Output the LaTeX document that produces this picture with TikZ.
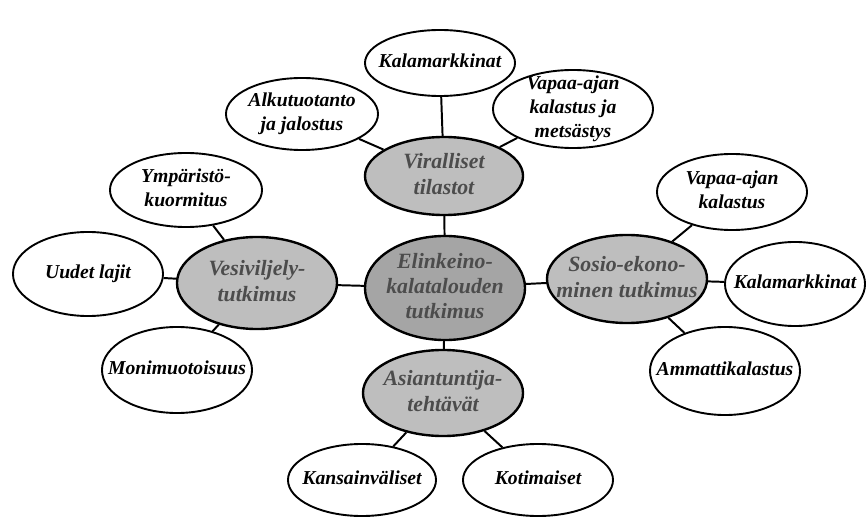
\documentclass[tikz,border=0pt]{standalone}
\usepackage{fontspec}
\setmainfont{Liberation Serif}
\usetikzlibrary{shapes.geometric}

\definecolor{harmaa}{RGB}{190,190,190}
\definecolor{tummaharmaa}{RGB}{165,165,165}

% text set in a box of no size, so the ellipse keeps its own size
\newcommand\ltxt[1]{\smash{\makebox[0pt]{\raisebox{-.25em}{\begin{tabular}{@{}c@{}}#1\end{tabular}}}}}

\tikzset{
   ell/.style={ellipse,draw,inner sep=0pt},
   outer/.style={ell,line width=1.35pt,fill=white,font=\bfseries\itshape\fontsize{14}{17}\selectfont},
   inner/.style={ell,line width=1.7pt,fill=harmaa,text=black!70,font=\bfseries\itshape\fontsize{15.5}{18}\selectfont},
   yhd/.style={line width=1.4pt}
}

\begin{document}
\begin{tikzpicture}[x=0.025cm,y=-0.025cm]
   \useasboundingbox (0,0) rectangle (866,517);

   % keskus ja paaalueet
   \node[inner,minimum width=4cm,minimum height=2.6cm,fill=tummaharmaa] (keskus) at (445,288) {\ltxt{Elinkeino-\\kalatalouden\\tutkimus}};
   \node[inner,minimum width=3.95cm,minimum height=1.95cm] (viral) at (444,176) {\ltxt{Viralliset\\tilastot}};
   \node[inner,minimum width=4cm,minimum height=2.3cm] (vesi) at (257,283) {\ltxt{Vesiviljely-\\tutkimus}};
   \node[inner,minimum width=4cm,minimum height=2.2cm] (sosio) at (627,279) {\ltxt{Sosio-ekono-\\minen tutkimus}};
   \node[inner,minimum width=4cm,minimum height=2.15cm] (asian) at (443,393) {\ltxt{Asiantuntija-\\tehtävät}};

   % viralliset tilastot
   \node[outer,minimum width=3.75cm,minimum height=1.65cm] (kalam1) at (440,63) {\ltxt{Kalamarkkinat}};
   \node[outer,minimum width=3.8cm,minimum height=1.8cm] (alku) at (302,114) {\ltxt{Alkutuotanto\\ja jalostus}};
   \node[outer,minimum width=4cm,minimum height=1.95cm] (vapmet) at (573,109) {\ltxt{Vapaa-ajan\\kalastus ja\\metsästys}};

   % vesiviljely
   \node[outer,minimum width=3.8cm,minimum height=1.85cm] (ymp) at (186,190) {\ltxt{Ympäristö-\\kuormitus}};
   \node[outer,minimum width=3.75cm,minimum height=2.1cm] (uudet) at (88,274) {\ltxt{Uudet lajit}};
   \node[outer,minimum width=3.75cm,minimum height=2.15cm] (moni) at (177,370) {\ltxt{Monimuotoisuus}};

   % sosio-ekonominen
   \node[outer,minimum width=3.75cm,minimum height=1.9cm] (vapaa) at (732,192) {\ltxt{Vapaa-ajan\\kalastus}};
   \node[outer,minimum width=3.5cm,minimum height=2.1cm] (kalam2) at (795,284) {\ltxt{Kalamarkkinat}};
   \node[outer,minimum width=3.75cm,minimum height=2.2cm] (ammatti) at (725,371) {\ltxt{Ammattikalastus}};

   % asiantuntijatehtavat
   \node[outer,minimum width=3.7cm,minimum height=1.8cm] (kans) at (362,480) {\ltxt{Kansainväliset}};
   \node[outer,minimum width=3.75cm,minimum height=1.8cm] (koti) at (538,480) {\ltxt{Kotimaiset}};

   \draw[yhd] (keskus) -- (viral);
   \draw[yhd] (keskus) -- (vesi);
   \draw[yhd] (keskus) -- (sosio);
   \draw[yhd] (keskus) -- (asian);
   \draw[yhd] (viral) -- (kalam1);
   \draw[yhd] (viral) -- (alku);
   \draw[yhd] (viral) -- (vapmet);
   \draw[yhd] (vesi) -- (ymp);
   \draw[yhd] (vesi) -- (uudet);
   \draw[yhd] (vesi) -- (moni);
   \draw[yhd] (sosio) -- (vapaa);
   \draw[yhd] (sosio) -- (kalam2);
   \draw[yhd] (sosio) -- (ammatti);
   \draw[yhd] (asian) -- (kans);
   \draw[yhd] (asian) -- (koti);
\end{tikzpicture}
\end{document}
